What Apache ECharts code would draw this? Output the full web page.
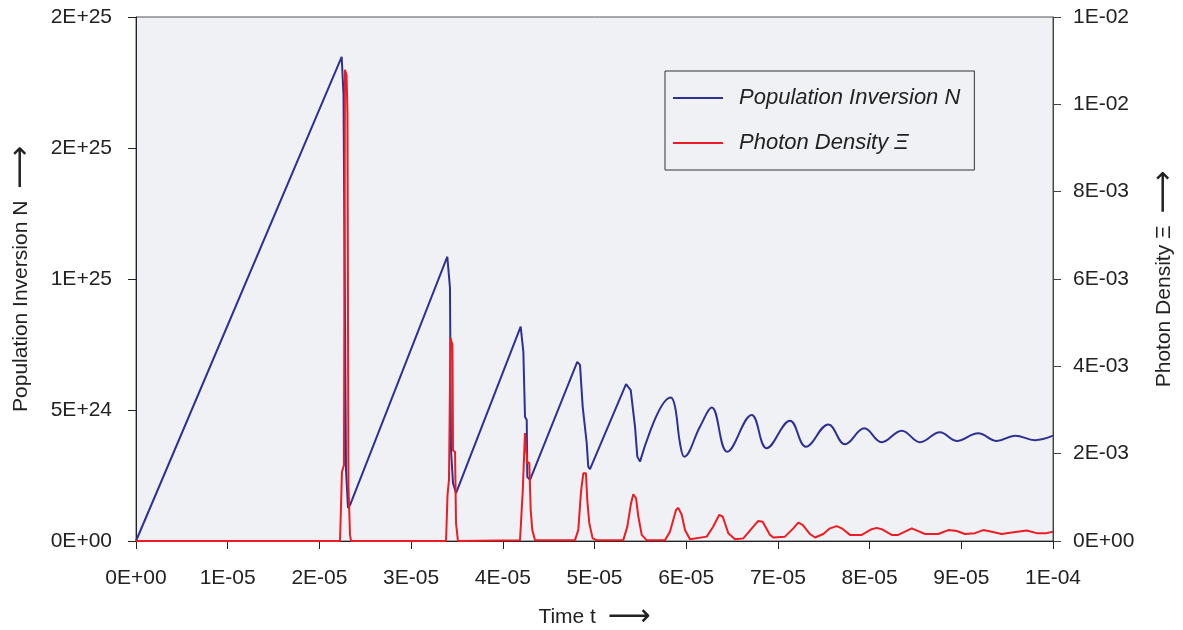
<!DOCTYPE html>
<html>
<head>
<meta charset="utf-8">
<script src="https://cdn.jsdelivr.net/npm/echarts@6/dist/echarts.min.js"></script>
<style>
html,body{margin:0;padding:0;background:#fff;}
#chart{width:1183px;height:630px;}
</style>
</head>
<body>
<div id="chart"></div>
<script>
// ---- Data ----
var xTickLabels = ['0E+00','1E-05','2E-05','3E-05','4E-05','5E-05','6E-05','7E-05','8E-05','9E-05','1E-04'];
var leftTickLabels = ['0E+00','5E+24','1E+25','2E+25','2E+25'];
var rightTickLabels = ['0E+00','2E-03','4E-03','6E-03','8E-03','1E-02','1E-02'];

// Population inversion N: sharp saw-tooth part
var nRampT = [0, 2.243e-5, 2.257e-5, 2.263e-5, 2.290e-5, 2.312e-5, 2.334e-5,
  3.395e-5, 3.424e-5, 3.435e-5, 3.457e-5, 3.490e-5,
  4.195e-5, 4.224e-5, 4.242e-5, 4.261e-5, 4.267e-5, 4.297e-5,
  4.812e-5, 4.842e-5, 4.871e-5, 4.915e-5, 4.932e-5, 4.951e-5,
  5.344e-5, 5.395e-5, 5.442e-5, 5.467e-5, 5.496e-5];
var nRampV = [0, 1.848e25, 1.847e25, 1.702e25, 2.71e24, 1.26e24, 1.37e24,
  1.085e25, 9.66e24, 3.47e24, 2.21e24, 1.83e24,
  8.18e24, 7.23e24, 4.74e24, 4.62e24, 2.45e24, 2.33e24,
  6.84e24, 6.72e24, 5.13e24, 3.74e24, 2.84e24, 2.74e24,
  5.99e24, 5.76e24, 4.36e24, 3.22e24, 3.03e24];
// Population inversion N: damped oscillation part (peaks / troughs)
var nOscT = [5.496e-5, 5.831e-5, 5.878e-5, 5.932e-5, 5.979e-5, 6.150e-5, 6.278e-5, 6.448e-5,
  6.714e-5, 6.878e-5, 7.132e-5, 7.306e-5, 7.550e-5, 7.732e-5, 7.942e-5, 8.132e-5,
  8.350e-5, 8.550e-5, 8.767e-5, 8.950e-5, 9.185e-5, 9.386e-5, 9.586e-5, 9.804e-5, 1.0e-4];
var nOscV = [3.03e24, 5.48e24, 5.13e24, 3.74e24, 3.22e24, 4.36e24, 5.10e24, 3.41e24,
  4.81e24, 3.54e24, 4.59e24, 3.60e24, 4.45e24, 3.69e24, 4.30e24, 3.77e24,
  4.21e24, 3.77e24, 4.15e24, 3.82e24, 4.11e24, 3.82e24, 4.02e24, 3.85e24, 4.02e24];

// Photon density Xi
var xiT = [0, 2.225e-5, 2.246e-5, 2.268e-5, 2.279e-5, 2.296e-5, 2.306e-5, 2.317e-5, 2.334e-5, 2.345e-5,
  3.381e-5, 3.397e-5, 3.413e-5, 3.430e-5, 3.451e-5, 3.457e-5, 3.479e-5, 3.490e-5, 3.511e-5,
  4.188e-5, 4.217e-5, 4.242e-5, 4.258e-5, 4.267e-5, 4.289e-5, 4.304e-5, 4.322e-5, 4.351e-5,
  4.787e-5, 4.823e-5, 4.853e-5, 4.878e-5, 4.907e-5, 4.921e-5, 4.943e-5, 4.980e-5, 5.024e-5,
  5.314e-5, 5.358e-5, 5.398e-5, 5.423e-5, 5.453e-5, 5.478e-5, 5.515e-5, 5.569e-5,
  5.769e-5, 5.823e-5, 5.889e-5, 5.914e-5, 5.951e-5, 5.987e-5, 6.041e-5,
  6.224e-5, 6.292e-5, 6.361e-5, 6.398e-5, 6.459e-5, 6.532e-5,
  6.623e-5, 6.732e-5, 6.786e-5, 6.834e-5, 6.914e-5, 6.950e-5,
  7.077e-5, 7.168e-5, 7.222e-5, 7.270e-5, 7.350e-5, 7.405e-5,
  7.495e-5, 7.568e-5, 7.641e-5, 7.696e-5, 7.786e-5,
  7.914e-5, 8.023e-5, 8.077e-5, 8.132e-5, 8.241e-5,
  8.313e-5, 8.459e-5, 8.550e-5, 8.604e-5,
  8.749e-5, 8.858e-5, 8.950e-5, 9.040e-5,
  9.149e-5, 9.240e-5, 9.332e-5, 9.441e-5,
  9.531e-5, 9.713e-5, 9.822e-5, 9.931e-5, 1.0e-4];
var xiV = [0, 0, 1.58e-3, 1.74e-3, 1.079e-2, 1.067e-2, 9.80e-3, 1.24e-3, 1.4e-4, 0,
  0, 1.05e-3, 1.40e-3, 4.65e-3, 4.49e-3, 2.08e-3, 2.04e-3, 4.1e-4, 0,
  2e-5, 1.13e-3, 2.47e-3, 2.47e-3, 1.79e-3, 1.79e-3, 7.1e-4, 2.5e-4, 2e-5,
  2e-5, 2.5e-4, 1.13e-3, 1.55e-3, 1.55e-3, 9.4e-4, 4.1e-4, 6e-5, 2e-5,
  2e-5, 3.3e-4, 8.6e-4, 1.07e-3, 9.8e-4, 5.6e-4, 1.4e-4, 2e-5,
  2e-5, 2.1e-4, 7.1e-4, 7.6e-4, 6.0e-4, 2.5e-4, 4e-5,
  1.0e-4, 3.2e-4, 6.0e-4, 5.6e-4, 1.8e-4, 4e-5,
  6e-5, 3.3e-4, 4.6e-4, 4.4e-4, 1.4e-4, 8e-5,
  1.0e-4, 2.9e-4, 4.2e-4, 3.7e-4, 1.6e-4, 8e-5,
  1.6e-4, 2.9e-4, 3.4e-4, 2.9e-4, 1.4e-4,
  1.4e-4, 2.7e-4, 3.0e-4, 2.7e-4, 1.4e-4,
  1.4e-4, 2.9e-4, 2.1e-4, 1.6e-4,
  1.6e-4, 2.5e-4, 2.3e-4, 1.6e-4,
  1.8e-4, 2.5e-4, 2.1e-4, 1.6e-4,
  1.9e-4, 2.4e-4, 1.8e-4, 1.8e-4, 2.1e-4];

function zip(a, b) { return a.map(function (v, i) { return [v, b[i]]; }); }

var FONT = '"Liberation Sans", Arial, Helvetica, sans-serif';
var BLUE = '#2e3192';
var RED = '#ed1c24';
var PLOT_BG = '#f0f1f4';

var chart = echarts.init(document.getElementById('chart'), null, {renderer: 'canvas'});
chart.setOption({
  backgroundColor: '#ffffff',
  animation: false,
  textStyle: {fontFamily: FONT},
  grid: {left: 136, right: 130, top: 17, bottom: 89, show: true,
    containLabel: false, outerBoundsMode: 'none',
    backgroundColor: PLOT_BG, borderColor: '#555', borderWidth: 1},
  legend: {
    left: 665, top: 71, orient: 'vertical',
    data: ['Population Inversion N', 'Photon Density \u039E'],
    icon: 'rect', itemWidth: 50, itemHeight: 2, itemGap: 23,
    padding: [16, 14, 16, 8],
    backgroundColor: PLOT_BG, borderColor: '#333', borderWidth: 1,
    textStyle: {fontFamily: FONT, fontSize: 22, fontStyle: 'italic', color: '#222',
      lineHeight: 22, padding: [0, 0, 0, 11]}
  },
  xAxis: {
    type: 'value', min: 0, max: 1e-4, interval: 1e-5,
    name: 'Time t  {arr|\u27F6}', nameLocation: 'middle', nameGap: 61,
    nameTextStyle: {fontFamily: FONT, fontSize: 21, color: '#222',
      rich: {arr: {fontFamily: '"DejaVu Sans"', fontSize: 30, color: '#222'}}},
    axisLine: {show: true, lineStyle: {color: '#222', width: 1}},
    axisTick: {show: true, length: 8, lineStyle: {color: '#222'}},
    splitLine: {show: false},
    axisLabel: {fontFamily: FONT, fontSize: 21, color: '#222', margin: 27,
      formatter: function (v) { return xTickLabels[Math.round(v / 1e-5)]; }}
  },
  yAxis: [{
    type: 'value', min: 0, max: 2e25, interval: 5e24, position: 'left',
    name: 'Population Inversion N  {arr|\u27F6}', nameLocation: 'middle', nameGap: 100,
    nameTextStyle: {fontFamily: FONT, fontSize: 21, color: '#222',
      rich: {arr: {fontFamily: '"DejaVu Sans"', fontSize: 30, color: '#222'}}},
    axisLine: {show: true, lineStyle: {color: '#222', width: 1}},
    axisTick: {show: true, length: 8, lineStyle: {color: '#222'}},
    splitLine: {show: false},
    axisLabel: {fontFamily: FONT, fontSize: 21, color: '#222', margin: 24,
      formatter: function (v) { return leftTickLabels[Math.round(v / 5e24)]; }}
  }, {
    type: 'value', min: 0, max: 0.012, interval: 0.002, position: 'right',
    name: 'Photon Density \u039E  {arr|\u27F6}', nameLocation: 'middle', nameGap: 96, nameRotate: 90,
    nameTextStyle: {fontFamily: FONT, fontSize: 21, color: '#222',
      rich: {arr: {fontFamily: '"DejaVu Sans"', fontSize: 30, color: '#222'}}},
    axisLine: {show: true, lineStyle: {color: '#444', width: 1}},
    axisTick: {show: true, length: 8, lineStyle: {color: '#444'}},
    splitLine: {show: false},
    axisLabel: {fontFamily: FONT, fontSize: 21, color: '#222', margin: 20,
      formatter: function (v) { return rightTickLabels[Math.round(v / 0.002)]; }}
  }],
  series: [{
    name: 'Population Inversion N', type: 'line', yAxisIndex: 0,
    symbol: 'none', color: BLUE, lineStyle: {color: BLUE, width: 2},
    data: zip(nRampT, nRampV)
  }, {
    name: 'Population Inversion N', type: 'line', yAxisIndex: 0,
    symbol: 'none', smooth: 0.4, color: BLUE, lineStyle: {color: BLUE, width: 2},
    data: zip(nOscT, nOscV)
  }, {
    name: 'Photon Density \u039E', type: 'line', yAxisIndex: 1,
    symbol: 'none', color: RED, lineStyle: {color: RED, width: 2},
    data: zip(xiT, xiV)
  }]
});
</script>
</body>
</html>
